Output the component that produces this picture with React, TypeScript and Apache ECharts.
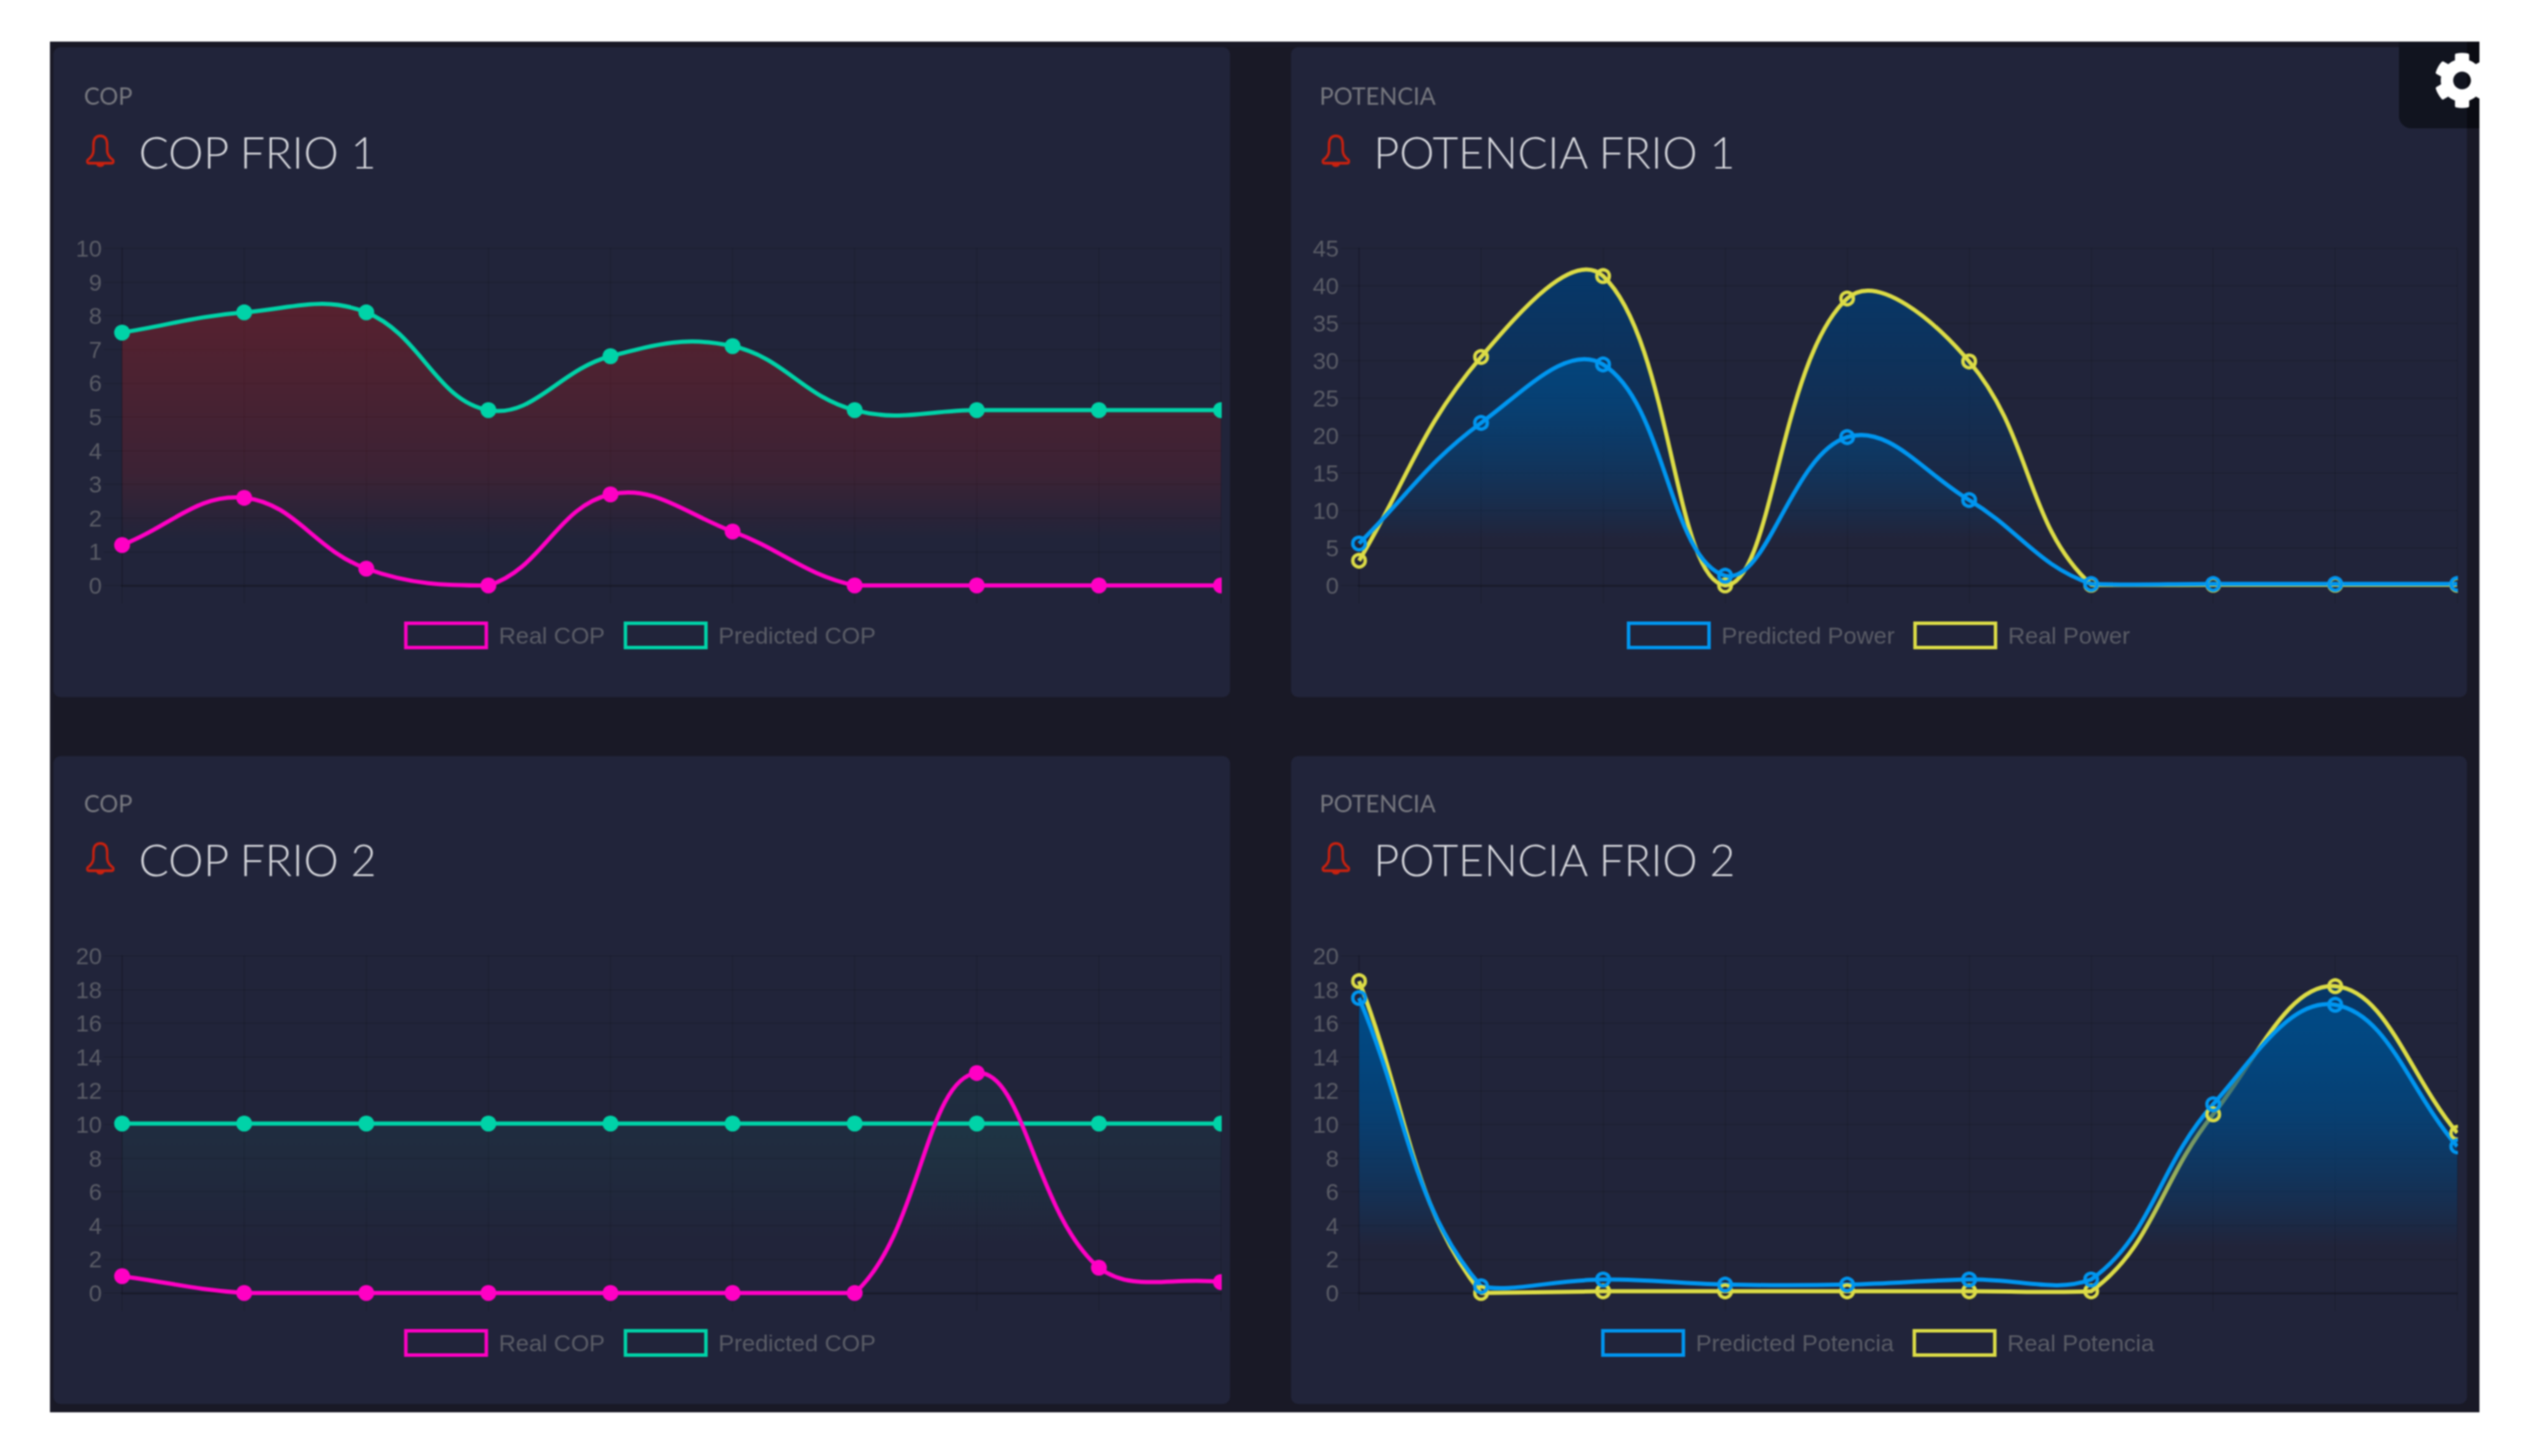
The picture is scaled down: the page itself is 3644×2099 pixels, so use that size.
import React, { useEffect, useRef } from "react";
import * as echarts from "echarts";

const hours = ["1", "2", "3", "4", "5", "6", "7", "8", "9", "10"];

const realCop1 = [1.2, 2.6, 0.5, 0, 2.7, 1.6, 0, 0, 0, 0];
const predictedCop1 = [7.5, 8.1, 8.1, 5.2, 6.8, 7.1, 5.2, 5.2, 5.2, 5.2];
const predictedPower1 = [5.6, 21.7, 29.5, 1.3, 19.8, 11.4, 0.2, 0.2, 0.2, 0.2];
const realPower1 = [3.3, 30.5, 41.3, 0, 38.3, 29.9, 0.1, 0.1, 0.1, 0.1];
const realCop2 = [1, 0, 0, 0, 0, 0, 0, 13.05, 1.5, 0.65];
const predictedCop2 = [10.05, 10.05, 10.05, 10.05, 10.05, 10.05, 10.05, 10.05, 10.05, 10.05];
const predictedPot2 = [17.5, 0.4, 0.8, 0.5, 0.5, 0.8, 0.8, 11.2, 17.1, 8.7];
const realPot2 = [18.5, 0, 0.1, 0.1, 0.1, 0.1, 0.1, 10.6, 18.2, 9.5];

const TEAL = "#00d3a8";
const MAGENTA = "#ff00c4";
const BLUE = "#0096f0";
const YELLOW = "#dcdc46";
const CARD = "#21243a";
const PAGE_DARK = "#191926";
const TICK_TEXT = "#5a5c66";
const GRID_LINE = "rgba(0,0,0,0.1)";
const BASE_LINE = "#191b2b";
const TENSION = 0.4;

const GEAR =
  "M487.4 315.7l-42.6-24.6c4.3-23.2 4.3-47 0-70.2l42.6-24.6c4.9-2.8 7.1-8.6 5.5-14-11.1-35.6-30-67.8-54.7-94.6-3.8-4.1-10-5.1-14.8-2.3L380.8 110c-17.9-15.4-38.5-27.3-60.8-35.1V25.8c0-5.6-3.9-10.5-9.4-11.7-36.7-8.2-74.3-7.8-109.2 0-5.5 1.2-9.4 6.1-9.4 11.7V75c-22.2 7.9-42.8 19.8-60.8 35.1L88.7 85.5c-4.9-2.8-11-1.9-14.8 2.3-24.7 26.7-43.6 58.9-54.7 94.6-1.7 5.4.6 11.2 5.5 14L67.3 221c-4.3 23.2-4.3 47 0 70.2l-42.6 24.6c-4.9 2.8-7.1 8.6-5.5 14 11.1 35.6 30 67.8 54.7 94.6 3.8 4.1 10 5.1 14.8 2.3l42.6-24.6c17.9 15.4 38.5 27.3 60.8 35.1v49.2c0 5.6 3.9 10.5 9.4 11.7 36.7 8.2 74.3 7.8 109.2 0 5.5-1.2 9.4-6.1 9.4-11.7v-49.2c22.2-7.9 42.8-19.8 60.8-35.1l42.6 24.6c4.9 2.8 11 1.9 14.8-2.3 24.7-26.7 43.6-58.9 54.7-94.6 1.5-5.5-.7-11.3-5.6-14.1zM256 336c-44.1 0-80-35.9-80-80s35.9-80 80-80 80 35.9 80 80-35.9 80-80 80z";
const BELL =
  "M12 1C8 1 6.5 4 6.5 8V12C6.5 15 5 17 2 19C1 20 1.5 21.5 3 21.5H21C22.5 21.5 23 20 22 19C19 17 17.5 15 17.5 12V8C17.5 4 16 1 12 1ZM9.5 21.5C10 24 14 24 14.5 21.5";

echarts.graphic.registerShape("gearLogo", echarts.graphic.extendPath(GEAR, {}) as any);
echarts.graphic.registerShape("bellLogo", echarts.graphic.extendPath(BELL, {}) as any);

// Bezier through screen points with free overshoot, capped to the plot rectangle.
function splineSegments(pts: number[][], yMin: number, yMax: number) {
  const clampY = (y: number) => Math.min(yMax, Math.max(yMin, y));
  const ctrl = pts.map((p, i) => {
    const a = pts[i - 1] || p;
    const b = pts[i + 1] || p;
    const d01 = Math.hypot(p[0] - a[0], p[1] - a[1]);
    const d12 = Math.hypot(b[0] - p[0], b[1] - p[1]);
    const sum = d01 + d12 || 1;
    const fa = (TENSION * d01) / sum;
    const fb = (TENSION * d12) / sum;
    return {
      prev: [p[0] - fa * (b[0] - a[0]), clampY(p[1] - fa * (b[1] - a[1]))],
      next: [p[0] + fb * (b[0] - a[0]), clampY(p[1] + fb * (b[1] - a[1]))],
    };
  });
  let d = "";
  for (let i = 1; i < pts.length; i++) {
    const c0 = ctrl[i - 1].next;
    const c1 = ctrl[i].prev;
    d += `C${c0[0]} ${c0[1]} ${c1[0]} ${c1[1]} ${pts[i][0]} ${pts[i][1]}`;
  }
  return d;
}

export default function App() {
  const ref = useRef<HTMLDivElement>(null);

  useEffect(() => {
    document.body.style.margin = "0";
    const chart = echarts.init(ref.current!, undefined, { renderer: "svg" });

    const PLOT_H = 486;
    const panels = [
      {
        x: 176, w: 1584, y: 358, max: 10, step: 1, cardX: 77, cardW: 1696, cardY: 68, cardH: 937,
        kicker: "COP", title: "COP FRIO 1", legendX: 582.5, hollow: false,
        first: { name: "Real COP", data: realCop1, color: MAGENTA },
        second: { name: "Predicted COP", data: predictedCop1, color: TEAL },
        kind: "red",
      },
      {
        x: 1959, w: 1583, y: 358, max: 45, step: 5, cardX: 1861, cardW: 1695, cardY: 68, cardH: 937,
        kicker: "POTENCIA", title: "POTENCIA FRIO 1", legendX: 2345, hollow: true,
        first: { name: "Predicted Power", data: predictedPower1, color: BLUE },
        second: { name: "Real Power", data: realPower1, color: YELLOW },
        kind: "blue",
      },
      {
        x: 176, w: 1584, y: 1378, max: 20, step: 2, cardX: 77, cardW: 1696, cardY: 1090, cardH: 934,
        kicker: "COP", title: "COP FRIO 2", legendX: 582.5, hollow: false,
        first: { name: "Real COP", data: realCop2, color: MAGENTA },
        second: { name: "Predicted COP", data: predictedCop2, color: TEAL },
        kind: "teal",
      },
      {
        x: 1959, w: 1583, y: 1378, max: 20, step: 2, cardX: 1861, cardW: 1695, cardY: 1090, cardH: 934,
        kicker: "POTENCIA", title: "POTENCIA FRIO 2", legendX: 2308, hollow: true,
        first: { name: "Predicted Potencia", data: predictedPot2, color: BLUE },
        second: { name: "Real Potencia", data: realPot2, color: YELLOW },
        kind: "blue",
      },
    ];

    const grad = (top: number, bottom: number, rgb: string, stops: [number, number][]) => ({
      type: "linear",
      global: true,
      x: 0,
      y: top,
      x2: 0,
      y2: bottom,
      colorStops: stops.map(([at, a]) => ({
        offset: (at - top) / (bottom - top),
        color: `rgba(${rgb},${a})`,
      })),
    });

    const areaFor = (p: any, which: "first" | "second") => {
      const bottom = p.y + PLOT_H - 67;
      const top = p.y;
      if (p.kind === "red") {
        if (which === "first") return undefined;
        return grad(top, bottom, "200,28,25", [
          [top, 0.38],
          [top + 325, 0.16],
          [bottom, 0],
        ]);
      }
      if (p.kind === "teal") {
        return grad(top, bottom, "0,211,167", [
          [top, 0.07],
          [top + 269, 0.045],
          [bottom, 0],
        ]);
      }
      if (which === "second") {
        return grad(top, bottom, "0,60,115", [
          [top, 0.9],
          [top + 223, 0.45],
          [bottom, 0],
        ]);
      }
      return grad(top, bottom, "0,75,135", [
        [top, 0.9],
        [top + 92, 0.9],
        [top + 223, 0.6],
        [bottom, 0],
      ]);
    };

    const grids = panels.map((p) => ({ left: p.x, top: p.y, width: p.w, height: PLOT_H }));

    const xAxes = panels.map((_, i) => ({
      type: "category",
      gridIndex: i,
      data: hours,
      boundaryGap: false,
      axisLabel: { show: false },
      axisTick: { show: true, length: 26, lineStyle: { color: GRID_LINE, width: 2 } },
      axisLine: { show: true, lineStyle: { color: BASE_LINE, width: 3 } },
      splitLine: { show: true, lineStyle: { color: GRID_LINE, width: 2 } },
    }));

    const yAxes = panels.map((p, i) => ({
      type: "value",
      gridIndex: i,
      min: 0,
      max: p.max,
      interval: p.step,
      axisLabel: {
        color: TICK_TEXT,
        fontSize: 34,
        fontFamily: "Liberation Sans",
        margin: 29,
        padding: [0, 0, 9, 0],
      },
      axisTick: { show: true, length: 26, lineStyle: { color: GRID_LINE, width: 2 } },
      axisLine: { show: true, lineStyle: { color: GRID_LINE, width: 2 } },
      splitLine: { show: true, lineStyle: { color: GRID_LINE, width: 2 } },
    }));

    const curveSeries = (p: any, i: number, which: "first" | "second") => {
      const s = p[which];
      const area = areaFor(p, which);
      return {
        type: "custom",
        name: `${s.name} curve ${i}`,
        coordinateSystem: "cartesian2d",
        xAxisIndex: i,
        yAxisIndex: i,
        silent: true,
        clip: false,
        encode: { x: 0, y: 1 },
        data: s.data.map((v: number, k: number) => [k, v]),
        renderItem: (params: any, api: any) => {
          if (params.dataIndex !== 0) return null;
          const pts = s.data.map((v: number, k: number) => api.coord([k, v]));
          const base = api.coord([0, 0])[1];
          const top = api.coord([0, p.max])[1];
          const curve = splineSegments(pts, top, base);
          const start = `M${pts[0][0]} ${pts[0][1]}`;
          const children: any[] = [];
          if (area) {
            children.push({
              type: "path",
              shape: {
                pathData: `${start}${curve}L${pts[pts.length - 1][0]} ${base}L${pts[0][0]} ${base}Z`,
              },
              style: { fill: area, stroke: "none" },
            });
          }
          children.push({
            type: "path",
            shape: { pathData: `${start}${curve}` },
            style: { fill: "none", stroke: s.color, lineWidth: 6, lineJoin: "round" },
          });
          return { type: "group", children };
        },
      };
    };

    const pointSeries = (p: any, i: number, which: "first" | "second") => {
      const s = p[which];
      return {
        type: "line",
        name: s.name,
        xAxisIndex: i,
        yAxisIndex: i,
        data: s.data,
        clip: false,
        showSymbol: true,
        showAllSymbol: true,
        symbol: "circle",
        symbolSize: p.hollow ? 18 : 23,
        lineStyle: { width: 0, opacity: 0 },
        itemStyle: p.hollow
          ? { color: "transparent", borderColor: s.color, borderWidth: 5 }
          : { color: s.color, borderColor: s.color, borderWidth: 0 },
        emphasis: { disabled: true },
      };
    };

    // The dataset listed first in a legend is painted last, on top.
    const series = panels.flatMap((p, i) => [
      curveSeries(p, i, "second"),
      pointSeries(p, i, "second"),
      curveSeries(p, i, "first"),
      pointSeries(p, i, "first"),
    ]);

    const legends = panels.map((p) => ({
      left: p.legendX,
      top: p.y + 538,
      padding: 0,
      orient: "horizontal",
      itemWidth: 116,
      itemHeight: 35,
      itemGap: 27,
      selectedMode: false,
      textStyle: { color: TICK_TEXT, fontSize: 34, fontFamily: "Liberation Sans", padding: [0, 0, 0, 13] },
      data: [p.first, p.second].map((s: any) => ({
        name: s.name,
        icon: "rect",
        itemStyle: { color: "transparent", borderColor: s.color, borderWidth: 5 },
      })),
    }));

    const graphic: any[] = [
      { type: "rect", z: -20, shape: { x: 72, y: 60, width: 3502, height: 1976 }, style: { fill: PAGE_DARK } },
    ];
    panels.forEach((p) => {
      graphic.push({
        type: "rect",
        z: -10,
        shape: { x: p.cardX, y: p.cardY, width: p.cardW, height: p.cardH, r: 10 },
        style: { fill: CARD },
      });
      const rowOffset = p.y - 358;
      const colOffset = p.x > 1000 ? 1781 : 0;
      graphic.push({
        type: "text",
        z: 5,
        x: 121 + colOffset,
        y: 137 + rowOffset,
        style: {
          text: p.kicker,
          fill: "#77787f",
          fontSize: 34,
          fontFamily: "Lato",
          fontWeight: 400,
          verticalAlign: "middle",
        },
      });
      graphic.push({
        type: "text",
        z: 5,
        x: 200 + (colOffset ? 1780 : 0),
        y: 218 + rowOffset,
        style: {
          text: p.title,
          fill: "#d8d9de",
          fontSize: 64,
          fontFamily: "Lato",
          fontWeight: 300,
          verticalAlign: "middle",
        },
      });
      graphic.push({
        type: "bellLogo",
        z: 5,
        x: 123 + colOffset,
        y: 194 + rowOffset,
        scaleX: 1.8,
        scaleY: 1.92,
        style: { fill: "none", stroke: "#c8210f", lineWidth: 2 },
      });
      // Right-hand points are cut off at the plot's edge.
      graphic.push({
        type: "rect",
        z: 100,
        shape: { x: p.x + p.w + 1, y: p.y - 20, width: p.cardX + p.cardW - (p.x + p.w + 1), height: PLOT_H + 60 },
        style: { fill: CARD },
      });
    });
    graphic.push(
      { type: "rect", z: 110, shape: { x: 3458, y: 60, width: 116, height: 125, r: [0, 0, 0, 18] }, style: { fill: "#11141f" } },
      { type: "rect", z: 111, shape: { x: 3556, y: 60, width: 18, height: 125 }, style: { fill: "#0a0b12" } },
      { type: "gearLogo", z: 112, x: 3508, y: 75, scaleX: 0.16, scaleY: 0.16, style: { fill: "#ffffff" } },
      { type: "rect", z: 113, shape: { x: 3574, y: 60, width: 70, height: 125 }, style: { fill: "#ffffff" } }
    );

    chart.setOption({
      animation: false,
      backgroundColor: "#ffffff",
      grid: grids,
      xAxis: xAxes,
      yAxis: yAxes,
      legend: legends,
      series,
      graphic: { elements: graphic },
    });

    return () => chart.dispose();
  }, []);

  return (
    <div
      ref={ref}
      style={{ position: "fixed", left: 0, top: 0, width: 3644, height: 2099, filter: "blur(1px)" }}
    />
  );
}
